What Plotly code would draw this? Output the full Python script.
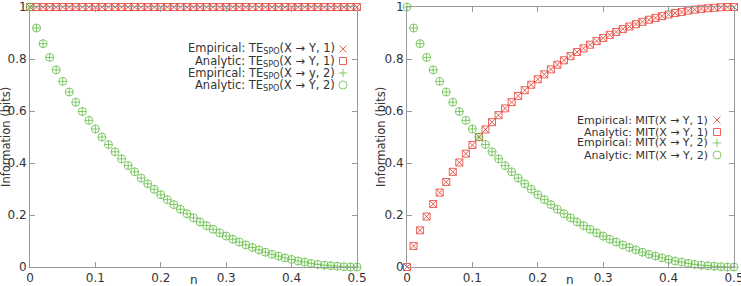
import plotly.graph_objects as go

# ---------------- data ----------------
eta = [0.00, 0.01, 0.02, 0.03, 0.04, 0.05, 0.06, 0.07, 0.08, 0.09,
       0.10, 0.11, 0.12, 0.13, 0.14, 0.15, 0.16, 0.17, 0.18, 0.19,
       0.20, 0.21, 0.22, 0.23, 0.24, 0.25, 0.26, 0.27, 0.28, 0.29,
       0.30, 0.31, 0.32, 0.33, 0.34, 0.35, 0.36, 0.37, 0.38, 0.39,
       0.40, 0.41, 0.42, 0.43, 0.44, 0.45, 0.46, 0.47, 0.48, 0.49, 0.50]

# left panel
te_lag1 = [1.000, 1.000, 1.000, 1.000, 1.000, 1.000, 1.000, 1.000, 1.000, 1.000,
           1.000, 1.000, 1.000, 1.000, 1.000, 1.000, 1.000, 1.000, 1.000, 1.000,
           1.000, 1.000, 1.000, 1.000, 1.000, 1.000, 1.000, 1.000, 1.000, 1.000,
           1.000, 1.000, 1.000, 1.000, 1.000, 1.000, 1.000, 1.000, 1.000, 1.000,
           1.000, 1.000, 1.000, 1.000, 1.000, 1.000, 1.000, 1.000, 1.000, 1.000, 1.000]
te_lag2 = [1.000, 0.919, 0.859, 0.806, 0.758, 0.714, 0.673, 0.634, 0.598, 0.564,
           0.531, 0.500, 0.471, 0.443, 0.416, 0.390, 0.366, 0.342, 0.320, 0.299,
           0.278, 0.259, 0.240, 0.222, 0.205, 0.189, 0.173, 0.159, 0.145, 0.131,
           0.119, 0.107, 0.096, 0.085, 0.075, 0.066, 0.057, 0.049, 0.042, 0.035,
           0.029, 0.023, 0.019, 0.014, 0.010, 0.007, 0.005, 0.003, 0.001, 0.000, 0.000]

# right panel
mit_lag1 = [0.000, 0.081, 0.141, 0.194, 0.242, 0.286, 0.327, 0.366, 0.402, 0.436,
            0.469, 0.500, 0.529, 0.557, 0.584, 0.610, 0.634, 0.658, 0.680, 0.701,
            0.722, 0.741, 0.760, 0.778, 0.795, 0.811, 0.827, 0.841, 0.855, 0.869,
            0.881, 0.893, 0.904, 0.915, 0.925, 0.934, 0.943, 0.951, 0.958, 0.965,
            0.971, 0.977, 0.981, 0.986, 0.990, 0.993, 0.995, 0.997, 0.999, 1.000, 1.000]
mit_lag2 = [1.000, 0.919, 0.859, 0.806, 0.758, 0.714, 0.673, 0.634, 0.598, 0.564,
            0.531, 0.500, 0.471, 0.443, 0.416, 0.390, 0.366, 0.342, 0.320, 0.299,
            0.278, 0.259, 0.240, 0.222, 0.205, 0.189, 0.173, 0.159, 0.145, 0.131,
            0.119, 0.107, 0.096, 0.085, 0.075, 0.066, 0.057, 0.049, 0.042, 0.035,
            0.029, 0.023, 0.019, 0.014, 0.010, 0.007, 0.005, 0.003, 0.001, 0.000, 0.000]

x_ticks = [0, 0.1, 0.2, 0.3, 0.4, 0.5]
x_ticktext = ["0", "0.1", "0.2", "0.3", "0.4", "0.5"]
y_ticks = [0, 0.2, 0.4, 0.6, 0.8, 1]
y_ticktext = ["0", "0.2", "0.4", "0.6", "0.8", "1"]

left_labels = ["Empirical: TE<sub>SPO</sub>(X → Y, 1)",
               "Analytic: TE<sub>SPO</sub>(X → Y, 1)",
               "Empirical: TE<sub>SPO</sub>(X → y, 2)",
               "Analytic: TE<sub>SPO</sub>(X → Y, 2)"]
right_labels = ["Empirical: MIT(X → Y, 1)",
                "Analytic: MIT(X → Y, 1)",
                "Empirical: MIT(X → Y, 2)",
                "Analytic: MIT(X → Y, 2)"]

# ---------------- style ----------------
RED = "rgba(232,70,60,0.85)"
GREEN = "rgba(100,190,70,0.80)"
FONT = "DejaVu Sans"
TXT = "#333333"
AX = "#999999"
symbols = ["x-thin-open", "square-open", "cross-thin-open", "circle-open"]
colors = [RED, RED, GREEN, GREEN]
msize = [7, 7, 6, 8]

W, H = 741, 286
ML, MR, MT, MB = 30, 7, 7, 19
PW = W - ML - MR
PH = H - MT - MB


def px2x(px):
    return (px - ML) / PW


def px2y(py):
    return (H - MB - py) / PH


fig = go.Figure()

panels = [
    ("x", "y", [te_lag1, te_lag1, te_lag2, te_lag2]),
    ("x2", "y2", [mit_lag1, mit_lag1, mit_lag2, mit_lag2]),
]
for xa, ya, series in panels:
    for i, ys in enumerate(series):
        fig.add_trace(go.Scatter(
            x=eta, y=ys, mode="markers", xaxis=xa, yaxis=ya,
            cliponaxis=False, showlegend=False, hoverinfo="skip",
            marker=dict(symbol=symbols[i], size=msize[i], color=colors[i],
                        line=dict(width=1, color=colors[i]))))

# legend keys (on a full-size hidden helper axis)
left_rows = [49, 61, 73, 85]
right_rows = [120, 132, 143, 155]
for i in range(4):
    for kx, ky in ((343, left_rows[i]), (717, right_rows[i])):
        fig.add_trace(go.Scatter(
            x=[px2x(kx)], y=[px2y(ky)], mode="markers", xaxis="x3", yaxis="y3",
            cliponaxis=False, showlegend=False, hoverinfo="skip",
            marker=dict(symbol=symbols[i], size=msize[i], color=colors[i],
                        line=dict(width=1, color=colors[i]))))

annotations = []
for i in range(4):
    annotations.append(dict(xref="paper", yref="paper", x=px2x(336), y=px2y(left_rows[i]),
                            xanchor="right", yanchor="middle", showarrow=False, borderpad=0,
                            text=left_labels[i], font=dict(family=FONT, size=11.5, color=TXT)))
    annotations.append(dict(xref="paper", yref="paper", x=px2x(709), y=px2y(right_rows[i]),
                            xanchor="right", yanchor="middle", showarrow=False, borderpad=0,
                            text=right_labels[i], font=dict(family=FONT, size=11, color=TXT)))

for cx in (6, 381):
    annotations.append(dict(xref="paper", yref="paper", x=px2x(cx), y=0.5, textangle=-90,
                            xanchor="center", yanchor="middle", showarrow=False,
                            text="Information (bits)", font=dict(family=FONT, size=11.5, color=TXT)))
for cx in (194, 570):
    annotations.append(dict(xref="paper", yref="paper", x=px2x(cx), y=0, yshift=-5,
                            xanchor="center", yanchor="top", showarrow=False, borderpad=0,
                            text="n", font=dict(family=FONT, size=12, color=TXT)))

axis_common = dict(showgrid=False, zeroline=False, showline=True, linecolor=AX, linewidth=1,
                   mirror="ticks", ticks="inside", ticklen=5, tickcolor=AX, automargin=False,
                   ticklabeloverflow="allow",
                   tickfont=dict(family=FONT, size=12, color=TXT))

fig.update_layout(
    width=W, height=H, margin=dict(l=ML, r=MR, t=MT, b=MB, autoexpand=False),
    paper_bgcolor="white", plot_bgcolor="rgba(0,0,0,0)",
    xaxis=dict(domain=[0, px2x(357)], range=[0, 0.5], tickvals=x_ticks, ticktext=x_ticktext,
               anchor="y", **axis_common),
    yaxis=dict(domain=[0, 1], range=[0, 1], tickvals=y_ticks, ticktext=y_ticktext,
               anchor="x", **axis_common),
    xaxis2=dict(domain=[px2x(407), 1], range=[0, 0.5], tickvals=x_ticks, ticktext=x_ticktext,
                anchor="y2", **axis_common),
    yaxis2=dict(domain=[0, 1], range=[0, 1], tickvals=y_ticks, ticktext=y_ticktext,
                anchor="x2", **axis_common),
    xaxis3=dict(domain=[0, 1], range=[0, 1], visible=False, anchor="y3", fixedrange=True,
                automargin=False),
    yaxis3=dict(domain=[0, 1], range=[0, 1], visible=False, anchor="x3", fixedrange=True,
                automargin=False),
    annotations=annotations,
)

fig.write_html("out.html")
